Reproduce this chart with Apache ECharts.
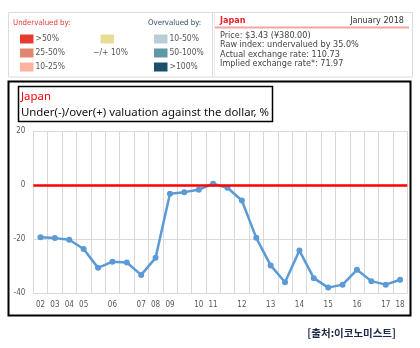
<!DOCTYPE html>
<html><head><meta charset="utf-8">
<script src="https://cdn.jsdelivr.net/npm/echarts@6/dist/echarts.min.js"></script>
<style>html,body{margin:0;padding:0;background:#fff}#c{width:420px;height:348px}</style>
</head><body><div id="c"></div>
<script>
var categories = ["02","03","04","05","","06","","07","08","09","","10","11","","12","","13","","14","","15","","16","","17","18"];
var valuation = [-19.3,-19.6,-20.2,-23.6,-30.6,-28.3,-28.6,-33.2,-26.9,-3.2,-2.6,-1.7,0.5,-1.0,-5.7,-19.5,-29.7,-35.9,-24.2,-34.4,-37.9,-36.8,-31.3,-35.5,-36.8,-35.0];
var yTicks = {min:-40, max:20, interval:20};
var underLegend = [[">50%","#e63c2f"],["25-50%","#e0866f"],["10-25%","#fcb39f"]];
var overLegend = [["10-50%","#b8ced7"],["50-100%","#5f98a6"],[">100%","#1b4f6c"]];
var neutralLegend = ["−/+ 10%","#e9dc97"];
var infoLines = ["Price: $3.43 (¥380.00)","Raw index: undervalued by 35.0%","Actual exchange rate: 110.73","Implied exchange rate*: 71.97"];

var cf = "'DejaVu Sans Condensed', 'DejaVu Sans', sans-serif";
var g = [];
// top panels
g.push({type:'rect',shape:{x:8.5,y:12.5,width:404,height:64.5},style:{fill:'#fff',stroke:'#dcdcdc',lineWidth:1}});
g.push({type:'line',shape:{x1:212.5,y1:12.5,x2:212.5,y2:77},style:{stroke:'#dcdcdc',lineWidth:1}});
g.push({type:'line',shape:{x1:214.5,y1:12.5,x2:214.5,y2:77},style:{stroke:'#ececec',lineWidth:1}});
g.push({type:'text',x:13,y:23,style:{text:'Undervalued by:',fill:'#e8383d',font:'7.8px '+cf,textVerticalAlign:'middle'}});
g.push({type:'text',x:148,y:23,style:{text:'Overvalued by:',fill:'#2e4d66',font:'7.8px '+cf,textVerticalAlign:'middle'}});
var rowsY = [39,53,67];
underLegend.forEach(function(d,i){
  g.push({type:'rect',shape:{x:20,y:rowsY[i]-4.5,width:13.5,height:9},style:{fill:d[1]}});
  g.push({type:'text',x:35.5,y:rowsY[i],style:{text:d[0],fill:'#555',font:'8.5px '+cf,textVerticalAlign:'middle'}});
});
overLegend.forEach(function(d,i){
  g.push({type:'rect',shape:{x:154,y:rowsY[i]-4.5,width:13.5,height:9},style:{fill:d[1]}});
  g.push({type:'text',x:169.5,y:rowsY[i],style:{text:d[0],fill:'#555',font:'8.5px '+cf,textVerticalAlign:'middle'}});
});
g.push({type:'rect',shape:{x:100.5,y:34.5,width:13.5,height:9},style:{fill:neutralLegend[1]}});
g.push({type:'text',x:110.5,y:53,style:{text:neutralLegend[0],fill:'#555',font:'8.5px '+cf,textAlign:'center',textVerticalAlign:'middle'}});
g.push({type:'text',x:220,y:21,style:{text:'Japan',fill:'#ee1c25',font:'bold 9px '+cf,textVerticalAlign:'middle'}});
g.push({type:'text',x:404,y:21,style:{text:'January 2018',fill:'#333',font:'9px '+cf,textAlign:'right',textVerticalAlign:'middle'}});
g.push({type:'line',shape:{x1:215,y1:27.5,x2:409,y2:27.5},style:{stroke:'#f4a3a3',lineWidth:2}});
var infoY=[35.5,45,54.7,64];
infoLines.forEach(function(t,i){
  g.push({type:'text',x:220,y:infoY[i],style:{text:t,fill:'#444',font:'9px '+cf,textVerticalAlign:'middle'}});
});
// chart frame
g.push({type:'rect',shape:{x:8.5,y:81.5,width:402,height:234},style:{fill:'none',stroke:'#000',lineWidth:2}});
g.push({type:'rect',shape:{x:18.5,y:86.5,width:254,height:35},style:{fill:'#fff',stroke:'#000',lineWidth:1.5}});
g.push({type:'text',x:21,y:96.5,style:{text:'Japan',fill:'#ff0000',font:"11.4px 'Noto Sans', sans-serif",textVerticalAlign:'middle'}});
g.push({type:'text',x:21,y:112.5,style:{text:'Under(-)/over(+) valuation against the dollar, %',fill:'#111',font:"11.4px 'Noto Sans', sans-serif",textVerticalAlign:'middle'}});
g.push({type:'text',x:396,y:333,style:{text:'[출처:이코노미스트]',fill:'#1e2a4a',font:"bold 10.5px 'Noto Sans CJK KR', sans-serif",textAlign:'right',textVerticalAlign:'middle'}});

var chart = echarts.init(document.getElementById('c'),null,{renderer:'canvas'});
chart.setOption({
  animation:false,
  graphic:g,
  grid:{left:33.3,right:12.7,top:131,bottom:54.7},
  xAxis:{type:'category',data:categories,boundaryGap:true,
    axisLine:{show:false},axisTick:{show:false},
    axisLabel:{interval:0,color:'#595959',fontSize:8,fontFamily:cf,margin:8},
    splitLine:{show:true,interval:0,lineStyle:{color:'#d9d9d9',width:1}}},
  yAxis:{type:'value',min:yTicks.min,max:yTicks.max,interval:yTicks.interval,
    axisLine:{show:false},axisTick:{show:false},
    axisLabel:{color:'#595959',fontSize:8,fontFamily:cf,margin:8},
    splitLine:{lineStyle:{color:'#d9d9d9',width:1}}},
  series:[{type:'line',data:valuation,symbol:'circle',symbolSize:6,
    lineStyle:{color:'#5b9bd5',width:2.5},itemStyle:{color:'#5b9bd5'},
    markLine:{silent:true,symbol:'none',label:{show:false},
      lineStyle:{color:'#ff0000',width:2.5,type:'solid'},data:[{yAxis:0}]},
    z:3}]
});
</script></body></html>
